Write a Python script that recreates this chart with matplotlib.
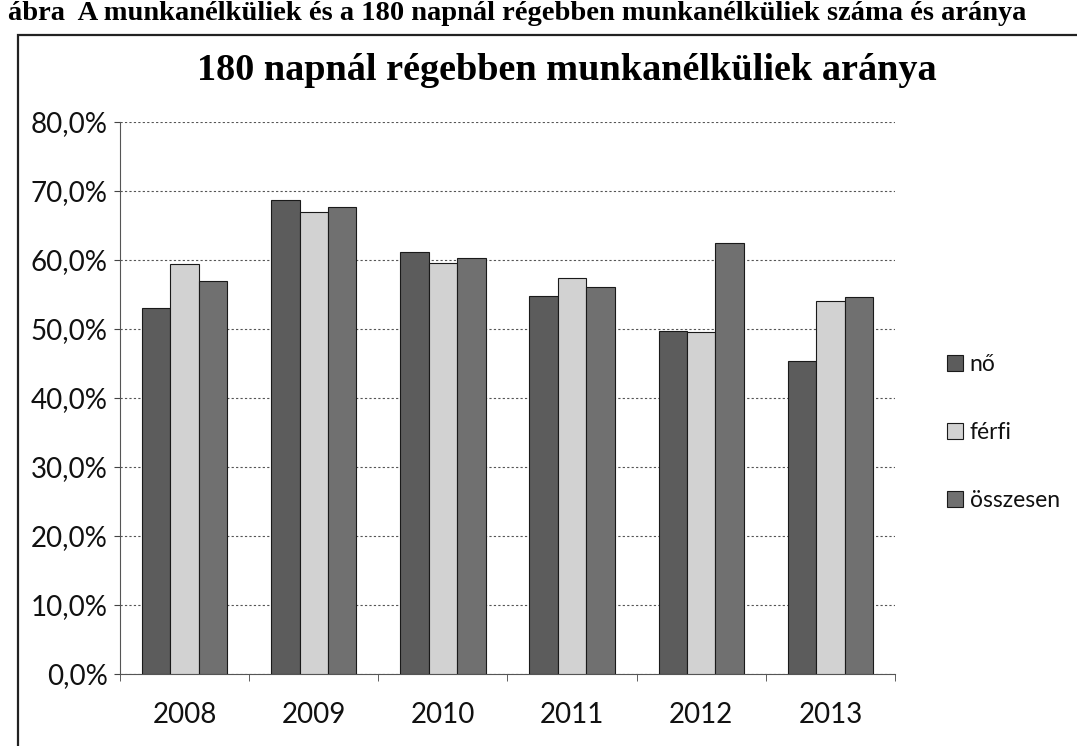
import numpy as np
import matplotlib
matplotlib.use("Agg")
import matplotlib.pyplot as plt
from matplotlib.patches import Rectangle
from matplotlib.ticker import FixedLocator, FuncFormatter

# data (percent)
years = ["2008", "2009", "2010", "2011", "2012", "2013"]
series_names = ["nő", "férfi", "összesen"]
no_vals = [53.1, 68.7, 61.1, 54.8, 49.7, 45.3]
ferfi_vals = [59.4, 67.0, 59.6, 57.4, 49.5, 54.0]
osszesen_vals = [56.9, 67.7, 60.3, 56.1, 62.4, 54.6]
yticks = [0, 10, 20, 30, 40, 50, 60, 70, 80]

colors = ["#5c5c5c", "#d2d2d2", "#707070"]
sans = ["Lato", "DejaVu Sans"]
serif = ["Liberation Serif", "DejaVu Serif"]

W, H = 1077, 746
fig = plt.figure(figsize=(W / 100, H / 100), dpi=100)

# chart frame (only left and top edges visible in the scan)
fig.patches.append(Rectangle((18 / W, -0.1), 1.2, 1 - 35 / H + 0.1,
                             transform=fig.transFigure, fill=False,
                             edgecolor="#222222", linewidth=1.6))

# page caption above the chart
fig.text(8 / W, 1 - 20 / H,
         "ábra  A munkanélküliek és a 180 napnál régebben munkanélküliek száma és aránya",
         ha="left", va="baseline", fontsize=20.5, fontweight="bold", family=serif)

fig.text(567 / W, 1 - 70 / H, "180 napnál régebben munkanélküliek aránya",
         ha="center", va="center", fontsize=27.5, fontweight="bold", family=serif)

ax = fig.add_axes([120 / W, 1 - 674 / H, 775 / W, 552 / H])

x = np.arange(len(years))
width = 0.22
for i, (name, vals) in enumerate(zip(series_names, [no_vals, ferfi_vals, osszesen_vals])):
    ax.bar(x + (i - 1) * width, vals, width, color=colors[i],
           edgecolor="#1a1a1a", linewidth=0.8, label=name, zorder=3)

ax.set_xlim(-0.5, len(years) - 0.5)
ax.set_ylim(0, 80)

ax.yaxis.set_major_locator(FixedLocator(yticks))
ax.yaxis.set_major_formatter(FuncFormatter(lambda v, p: f"{v:.1f}%".replace(".", ",")))
ax.grid(axis="y", color="#555555", linestyle=(0, (2, 2)), linewidth=0.8, zorder=0)

ax.set_xticks(x)
ax.set_xticklabels(years)
ax.xaxis.set_minor_locator(FixedLocator(np.arange(-0.5, len(years), 1.0)))
ax.tick_params(axis="x", which="major", length=0, pad=20, labelsize=20)
ax.tick_params(axis="x", which="minor", length=5, color="#444444")
ax.tick_params(axis="y", length=4, color="#444444", pad=5, labelsize=20)
for lab in ax.get_xticklabels() + ax.get_yticklabels():
    lab.set_family(sans)
    lab.set_color("#111111")

for side in ["top", "right"]:
    ax.spines[side].set_visible(False)
ax.spines["left"].set_color("#555555")
ax.spines["left"].set_linestyle((0, (2, 1)))
ax.spines["bottom"].set_color("#555555")

leg = ax.legend(loc="center left", bbox_to_anchor=(1.04, 0.438), frameon=False,
                prop={"family": sans, "size": 16.5}, handlelength=0.7,
                handleheight=0.7, handletextpad=0.3, labelspacing=2.05)
for t in leg.get_texts():
    t.set_color("#111111")

fig.savefig("out.png", dpi=100)
